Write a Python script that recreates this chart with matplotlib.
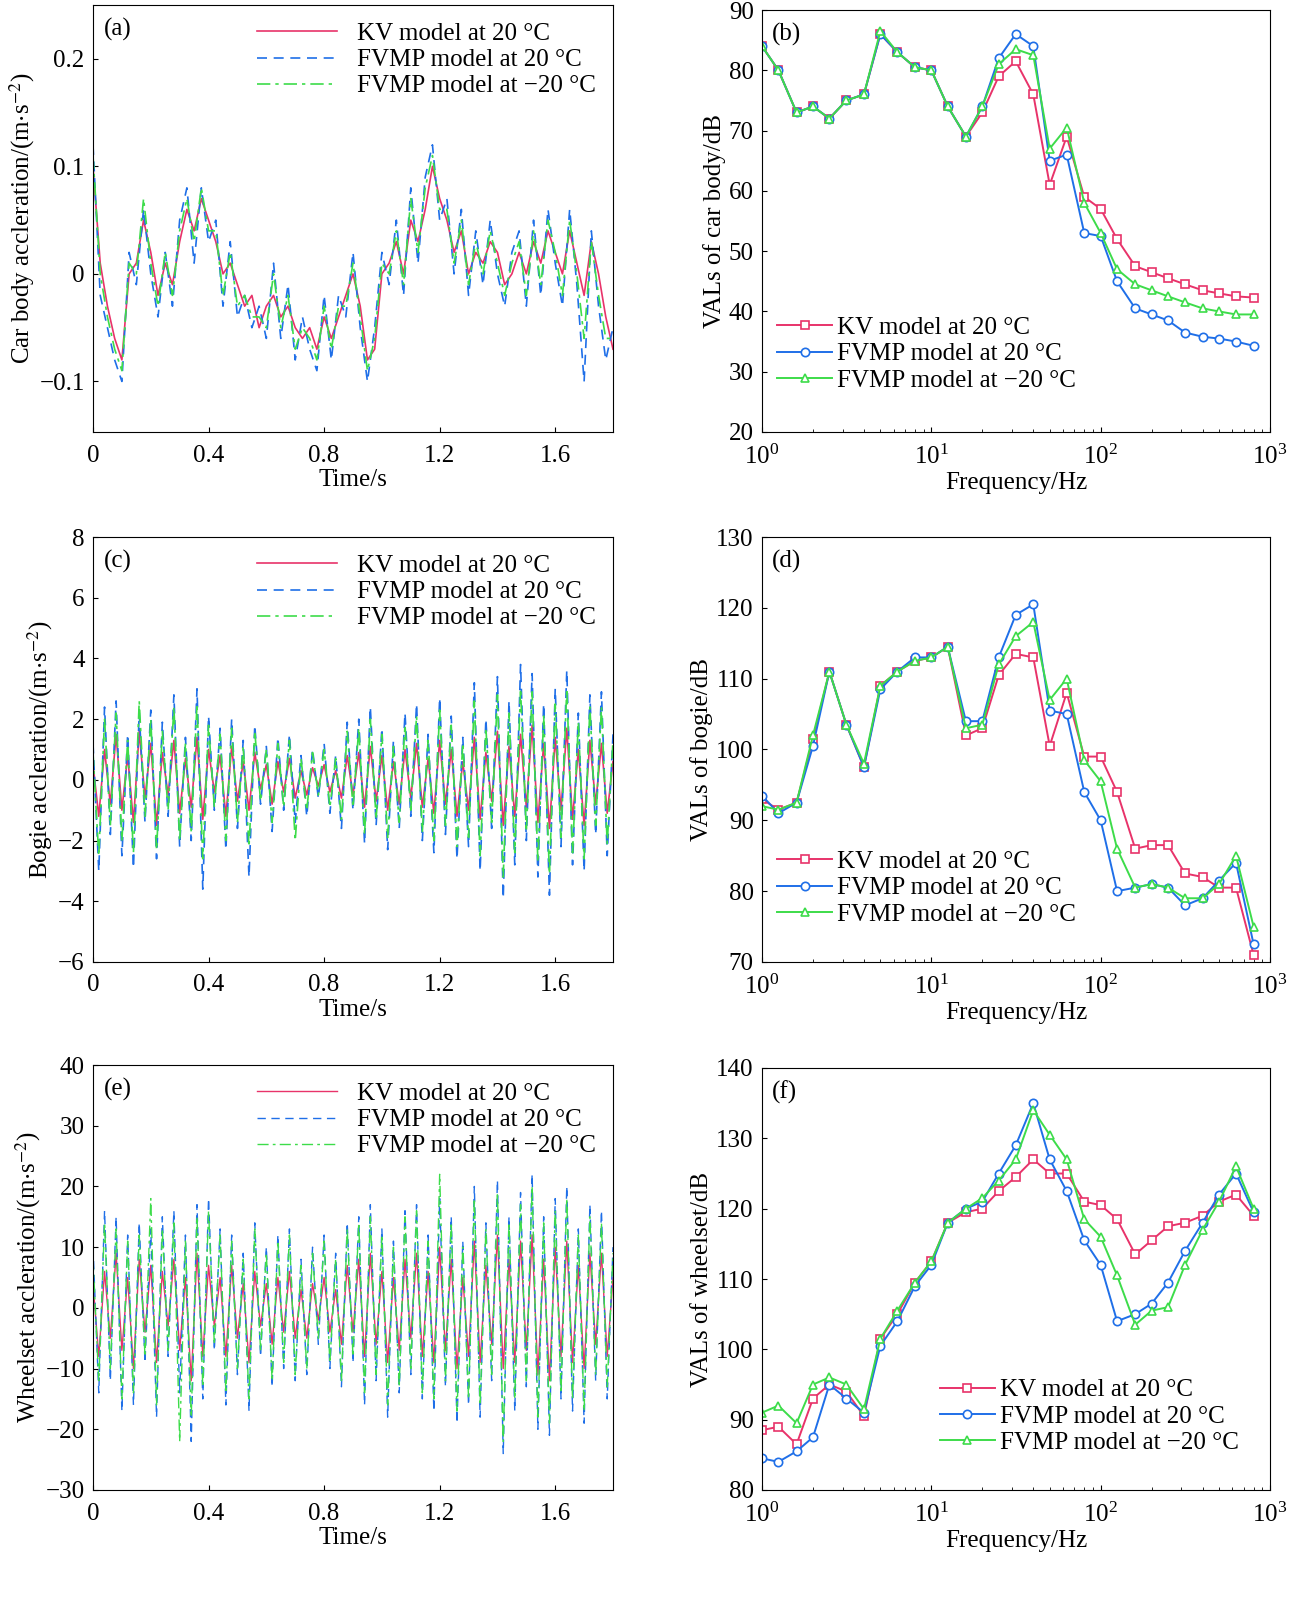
import numpy as np
import matplotlib
matplotlib.use("Agg")
import matplotlib.pyplot as plt
from matplotlib.ticker import LogLocator, NullFormatter, FuncFormatter

plt.rcParams["font.family"] = ["Liberation Serif", "DejaVu Serif"]
plt.rcParams["mathtext.fontset"] = "stix"
plt.rcParams["font.size"] = 18
plt.rcParams["axes.unicode_minus"] = True

C_KV = "#e8336a"
C_FV = "#1f6fe8"
C_FC = "#3ddc4a"
LABELS = ["KV model at 20 °C", "FVMP model at 20 °C", "FVMP model at \u221220 °C"]

# ---- time histories (0 .. 1.8 s) ----
car_kv = [0.10, 0.01, -0.03, -0.06, -0.08, 0.0, 0.01, 0.05, 0.02, -0.02, 0.01, -0.01, 0.03, 0.06, 0.04,
          0.07, 0.05, 0.03, 0.0, 0.01, -0.01, -0.03, -0.02, -0.05, -0.03, -0.02, -0.04, -0.03, -0.05, -0.06,
          -0.05, -0.07, -0.04, -0.06, -0.04, -0.02, 0.0, -0.03, -0.08, -0.07, 0.0, 0.01, 0.03, 0.0, 0.05,
          0.03, 0.06, 0.10, 0.07, 0.05, 0.02, 0.04, 0.0, 0.02, 0.01, 0.03, 0.02, -0.01, 0.0, 0.02,
          0.0, 0.03, 0.01, 0.04, 0.02, 0.0, 0.04, 0.01, -0.02, 0.03, 0.0, -0.04, -0.07]
car_fv20 = [0.12, -0.02, -0.05, -0.08, -0.10, 0.02, -0.01, 0.06, 0.0, -0.04, 0.02, -0.03, 0.05, 0.08, 0.01,
            0.08, 0.03, 0.05, -0.03, 0.03, -0.04, -0.02, -0.05, -0.03, -0.06, 0.01, -0.06, -0.01, -0.08, -0.04,
            -0.07, -0.09, -0.02, -0.08, -0.02, -0.04, 0.02, -0.05, -0.10, -0.05, 0.02, -0.01, 0.05, -0.02, 0.08,
            0.01, 0.09, 0.12, 0.05, 0.07, 0.0, 0.06, -0.02, 0.04, -0.01, 0.05, 0.0, -0.03, 0.02, 0.04,
            -0.03, 0.05, -0.02, 0.06, 0.01, -0.03, 0.06, -0.01, -0.10, 0.04, -0.03, -0.08, -0.05]
car_fvm20 = [0.11, 0.0, -0.04, -0.07, -0.09, 0.01, 0.0, 0.07, 0.01, -0.03, 0.02, -0.02, 0.04, 0.07, 0.03,
             0.08, 0.04, 0.04, -0.02, 0.02, -0.03, -0.02, -0.04, -0.04, -0.05, 0.0, -0.05, -0.02, -0.07, -0.05,
             -0.06, -0.08, -0.03, -0.07, -0.03, -0.03, 0.01, -0.04, -0.09, -0.06, 0.01, 0.0, 0.04, -0.01, 0.07,
             0.02, 0.08, 0.11, 0.06, 0.06, 0.01, 0.05, -0.01, 0.03, 0.0, 0.04, 0.01, -0.02, 0.01, 0.03,
             -0.02, 0.04, -0.01, 0.05, 0.02, -0.02, 0.05, 0.0, -0.06, 0.03, -0.02, -0.06, -0.06]

bogie_kv = [0.5, -1.2, 1.0, -0.8, 1.5, -1.0, 0.8, -1.4, 1.6, -0.6, 1.2, -1.5, 0.9, -0.5, 1.3, -1.1, 0.7,
            -0.9, 1.4, -1.3, 1.0, -0.4, 0.8, -1.2, 1.1, -0.7, 0.6, -1.0, 0.9, -0.3, 0.5, -0.8, 0.6, -0.4,
            0.7, -0.6, 0.3, -0.5, 0.4, -0.2, 0.5, -0.4, 0.3, -0.6, 0.8, -0.5, 0.9, -0.9, 1.1, -0.7, 0.8,
            -1.0, 0.6, -0.8, 1.0, -0.6, 1.2, -0.9, 0.7, -1.1, 1.3, -0.8, 1.0, -1.2, 0.6, -1.0, 1.4, -1.3,
            0.9, -0.7, 1.6, -1.5, 1.1, -1.2, 1.5, -0.9, 1.8, -1.4, 1.2, -1.6, 1.4, -1.0, 1.7, -1.3, 1.0,
            -1.5, 1.3, -0.8, 1.2, -1.1, 0.6]
bogie_fv20 = [1.2, -3.0, 2.4, -1.8, 2.6, -2.5, 1.5, -2.9, 2.2, -1.4, 2.3, -2.6, 1.9, -1.2, 2.8, -2.2,
              1.4, -2.0, 3.0, -3.6, 2.1, -1.0, 1.7, -2.3, 2.0, -1.6, 1.3, -3.2, 1.8, -0.8, 1.1, -1.7, 1.4,
              -1.0, 1.5, -1.4, 0.8, -1.2, 1.0, -0.6, 1.2, -1.1, 0.8, -1.6, 1.9, -1.0, 2.0, -2.1, 2.4, -1.5,
              1.7, -2.3, 1.3, -1.6, 2.2, -1.2, 2.5, -2.0, 1.5, -2.4, 2.7, -1.8, 2.1, -2.6, 1.4, -2.2, 3.2,
              -3.0, 2.0, -1.6, 3.4, -3.9, 2.6, -2.8, 3.8, -2.0, 3.5, -3.2, 2.5, -3.8, 3.0, -2.2, 3.6, -2.8,
              2.2, -3.0, 2.8, -1.8, 2.9, -2.5, 1.5]
bogie_fvm20 = [0.9, -2.5, 2.0, -1.5, 2.2, -2.0, 1.3, -2.4, 2.6, -1.2, 2.0, -2.3, 1.6, -1.0, 2.4, -2.0,
               1.2, -1.7, 2.5, -2.6, 1.8, -0.9, 1.5, -2.0, 1.7, -1.4, 1.1, -2.2, 1.6, -0.7, 1.0, -1.4, 1.2,
               -0.9, 1.3, -2.0, 0.7, -1.0, 0.9, -0.5, 1.0, -0.9, 0.7, -1.3, 1.6, -0.9, 1.7, -1.8, 2.0, -1.3,
               1.5, -1.9, 1.1, -1.4, 1.8, -1.0, 2.1, -1.7, 1.3, -2.0, 2.3, -1.5, 1.8, -2.2, 1.2, -1.9, 2.6,
               -2.5, 1.7, -1.4, 2.8, -3.2, 2.2, -2.4, 3.0, -1.7, 2.9, -2.7, 2.1, -3.1, 2.5, -1.9, 3.0, -2.4,
               1.9, -2.6, 2.4, -1.5, 2.4, -2.1, 1.3]

wheel_kv = [4, -8, 6, -5, 9, -7, 5, -10, 8, -4, 7, -9, 6, -3, 8, -7, 5, -12, 9, -8, 7, -3, 5, -8, 7,
            -5, 4, -9, 6, -3, 4, -6, 5, -4, 6, -5, 3, -5, 4, -2, 5, -4, 3, -6, 7, -4, 8, -8, 9, -6,
            6, -9, 5, -7, 8, -5, 9, -8, 6, -9, 10, -7, 8, -10, 5, -8, 11, -9, 7, -6, 12, -10, 8, -9,
            11, -7, 12, -11, 8, -12, 10, -8, 11, -9, 7, -10, 9, -6, 9, -8, 5]
wheel_fv20 = [10, -14, 16, -12, 15, -17, 12, -16, 14, -9, 13, -18, 15, -8, 16, -14, 12, -22, 17, -15,
              18, -7, 13, -16, 12, -11, 9, -17, 14, -8, 10, -13, 12, -10, 13, -12, 8, -11, 10, -6, 12,
              -10, 9, -13, 14, -9, 15, -16, 17, -12, 13, -18, 11, -14, 16, -11, 17, -15, 12, -17, 18,
              -13, 15, -19, 11, -16, 20, -18, 14, -12, 21, -24, 15, -17, 19, -13, 22, -20, 15, -21, 18,
              -15, 20, -17, 13, -19, 17, -12, 16, -15, 10]
wheel_fvm20 = [8, -12, 14, -10, 13, -15, 11, -14, 12, -8, 18, -16, 13, -7, 14, -22, 11, -18, 15, -13,
               16, -6, 12, -14, 11, -10, 8, -15, 13, -7, 9, -12, 11, -9, 12, -11, 7, -10, 9, -5, 11,
               -9, 8, -12, 13, -8, 14, -14, 15, -11, 12, -16, 10, -13, 15, -10, 16, -14, 11, -15, 22,
               -12, 14, -17, 10, -15, 18, -16, 13, -11, 19, -22, 14, -15, 17, -12, 20, -18, 14, -19, 16,
               -14, 18, -15, 12, -17, 15, -11, 14, -13, 9]

# ---- 1/3 octave VAL spectra ----
freq = [1, 1.25, 1.6, 2, 2.5, 3.15, 4, 5, 6.3, 8, 10, 12.5, 16, 20, 25, 31.5, 40, 50, 63, 80,
        100, 125, 160, 200, 250, 315, 400, 500, 630, 800]
val_car_kv = [84, 80, 73, 74, 72, 75, 76, 86, 83, 80.5, 80, 74, 69, 73, 79, 81.5, 76, 61, 69, 59,
              57, 52, 47.5, 46.5, 45.5, 44.5, 43.5, 43, 42.5, 42.3]
val_car_fv20 = [84, 80, 73, 74, 72, 75, 76, 86, 83, 80.5, 80, 74, 69, 74, 82, 86, 84, 65, 66, 53,
                52.5, 45, 40.5, 39.5, 38.5, 36.5, 35.8, 35.5, 35, 34.3]
val_car_fvm20 = [84, 80, 73, 74, 72, 75, 76, 86.5, 83, 80.5, 80, 74, 69, 74, 81, 83.5, 82.5, 67, 70.5, 58,
                 53, 47, 44.5, 43.5, 42.5, 41.5, 40.5, 40, 39.5, 39.5]
val_bog_kv = [93, 91.5, 92.5, 101.5, 111, 103.5, 97.5, 109, 111, 112.5, 113, 114.5, 102, 103, 110.5,
              113.5, 113, 100.5, 108, 99, 99, 94, 86, 86.5, 86.5, 82.5, 82, 80.5, 80.5, 71]
val_bog_fv20 = [93.5, 91, 92.5, 100.5, 111, 103.5, 97.5, 108.5, 111, 113, 113, 114.5, 104, 104, 113,
                119, 120.5, 105.5, 105, 94, 90, 80, 80.5, 81, 80.5, 78, 79, 81.5, 84, 72.5]
val_bog_fvm20 = [92, 91.5, 92.5, 102, 111, 103.5, 98, 109, 111, 112.5, 113, 114.5, 103, 103.5, 112,
                 116, 118, 107, 110, 98.5, 95.5, 86, 80.5, 81, 80.5, 79, 79, 81, 85, 75]
val_whl_kv = [88.5, 89, 86.5, 93, 95, 94, 90.5, 101.5, 105, 109.5, 112.5, 118, 119.5, 120, 122.5, 124.5,
              127, 125, 125, 121, 120.5, 118.5, 113.5, 115.5, 117.5, 118, 119, 121, 122, 119]
val_whl_fv20 = [84.5, 84, 85.5, 87.5, 95, 93, 91, 100.5, 104, 109, 112, 118, 120, 121, 125, 129,
                135, 127, 122.5, 115.5, 112, 104, 105, 106.5, 109.5, 114, 118, 122, 125, 119.5]
val_whl_fvm20 = [91, 92, 89.5, 95, 96, 95, 91.5, 101.5, 105.5, 109.5, 112.5, 118, 120, 121.5, 124, 127,
                 134, 130.5, 127, 118.5, 116, 110.5, 103.5, 105.5, 106, 112, 117, 121, 126, 120]


def style(ax):
    ax.tick_params(direction="in", which="both", top=False, right=False)
    ax.tick_params(axis="x", pad=9)
    ax.tick_params(axis="y", pad=6)


def time_panel(ax, series, ylim, yticks, ylabel, tag, lw=1.2):
    for y, c, ls, lab in zip(series, [C_KV, C_FV, C_FC], ["-", (0, (6, 4)), (0, (8, 3, 2, 3))], LABELS):
        t = np.linspace(0, 1.8, len(y))
        ax.plot(t, y, color=c, ls=ls, lw=lw, label=lab)
    ax.set_xlim(0, 1.8)
    ax.set_ylim(*ylim)
    ax.set_yticks(yticks)
    ax.yaxis.set_major_formatter(FuncFormatter(lambda v, p: f"{v:g}".replace("-", "\u2212")))
    ax.set_xticks([0, 0.4, 0.8, 1.2, 1.6])
    ax.set_xticklabels(["0", "0.4", "0.8", "1.2", "1.6"])
    ax.set_xlabel("Time/s", labelpad=2)
    ax.set_ylabel(ylabel, labelpad=2)
    ax.text(0.02, 0.97, tag, transform=ax.transAxes, va="top")
    ax.legend(loc="upper right", frameon=False, handlelength=3.2, labelspacing=0.15,
              borderaxespad=0.3, fontsize=18)
    style(ax)


def freq_panel(ax, series, ylim, yticks, ylabel, tag, leg_anchor):
    for y, c, m, lab in zip(series, [C_KV, C_FV, C_FC], ["s", "o", "^"], LABELS):
        ax.plot(freq, y, color=c, lw=1.4, marker=m, ms=6, mfc="white", mec=c, mew=1.2, label=lab)
    ax.set_xscale("log")
    ax.set_xlim(1, 1000)
    ax.set_ylim(*ylim)
    ax.set_yticks(yticks)
    ax.xaxis.set_minor_locator(LogLocator(base=10, subs=np.arange(2, 10)))
    ax.xaxis.set_minor_formatter(NullFormatter())
    ax.set_xlabel("Frequency/Hz", labelpad=2)
    ax.set_ylabel(ylabel, labelpad=2)
    ax.text(0.02, 0.97, tag, transform=ax.transAxes, va="top")
    ax.legend(loc="lower left", bbox_to_anchor=leg_anchor, frameon=False, handlelength=2.2,
              handletextpad=0.2, labelspacing=0.15, borderaxespad=0.2, fontsize=18)
    style(ax)


fig = plt.figure(figsize=(13.12, 16), dpi=100)
W, H = 1312, 1600
def add(x0, y0, x1, y1):
    return fig.add_axes([x0 / W, 1 - y1 / H, (x1 - x0) / W, (y1 - y0) / H])

ax_a = add(93, 5, 613, 432)
ax_b = add(762, 10, 1270, 432)
ax_c = add(93, 537, 613, 962)
ax_d = add(762, 537, 1270, 962)
ax_e = add(93, 1065, 613, 1490)
ax_f = add(762, 1068, 1270, 1490)

time_panel(ax_a, [car_kv, car_fv20, car_fvm20], (-0.147, 0.25), [-0.1, 0, 0.1, 0.2],
           "Car body accleration/(m$\\cdot$s$^{-2}$)", "(a)")
time_panel(ax_c, [bogie_kv, bogie_fv20, bogie_fvm20], (-6, 8), [-6, -4, -2, 0, 2, 4, 6, 8],
           "Bogie accleration/(m$\\cdot$s$^{-2}$)", "(c)")
time_panel(ax_e, [wheel_kv, wheel_fv20, wheel_fvm20], (-30, 40), [-30, -20, -10, 0, 10, 20, 30, 40],
           "Wheelset accleration/(m$\\cdot$s$^{-2}$)", "(e)", lw=1.0)

freq_panel(ax_b, [val_car_kv, val_car_fv20, val_car_fvm20], (20, 90), range(20, 91, 10),
           "VALs of car body/dB", "(b)", (0.0, 0.06))
freq_panel(ax_d, [val_bog_kv, val_bog_fv20, val_bog_fvm20], (70, 130), range(70, 131, 10),
           "VALs of bogie/dB", "(d)", (0.0, 0.05))
freq_panel(ax_f, [val_whl_kv, val_whl_fv20, val_whl_fvm20], (80, 140), range(80, 141, 10),
           "VALs of wheelset/dB", "(f)", (0.32, 0.05))

fig.savefig("out.png", dpi=100)
